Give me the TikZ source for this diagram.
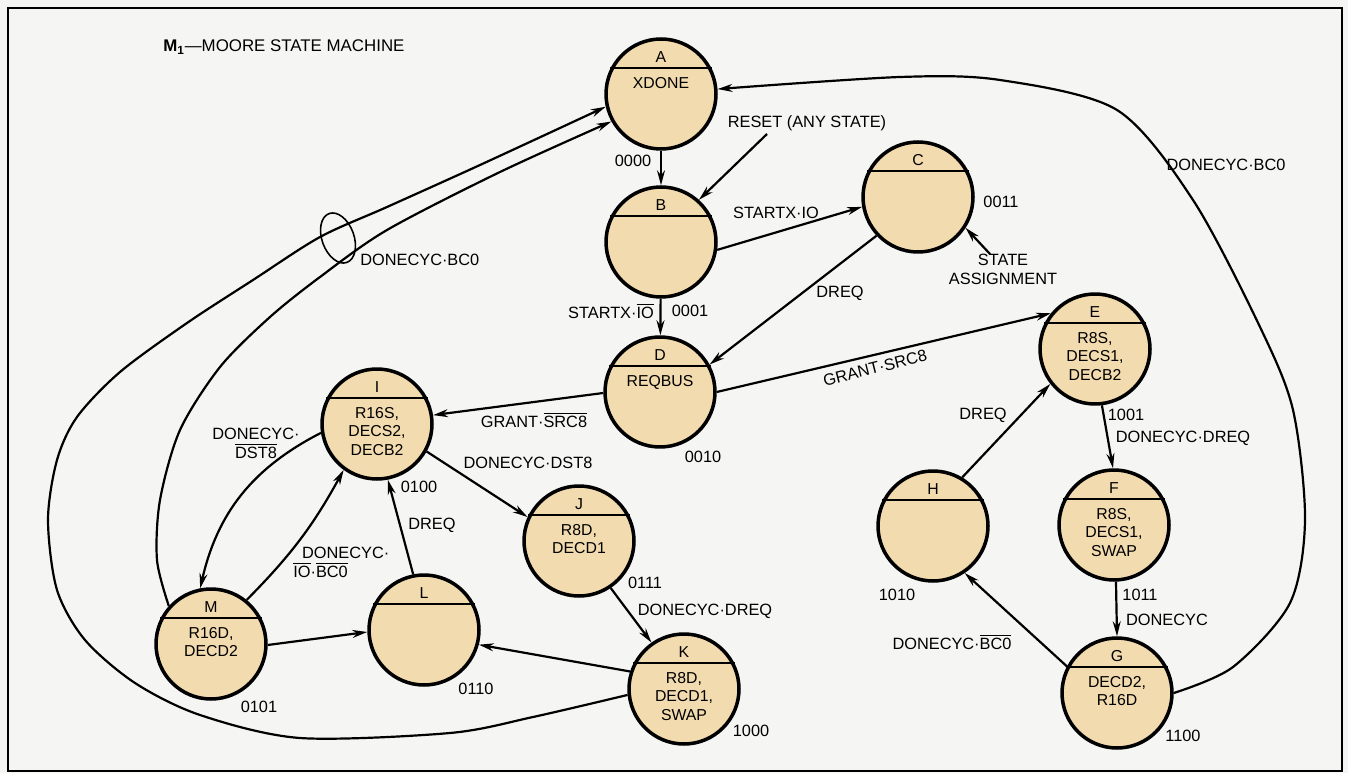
\documentclass[tikz,border=0pt]{standalone}
\usepackage{fontspec}
\setmainfont{Liberation Sans}
\usetikzlibrary{arrows.meta}
\definecolor{statefill}{RGB}{242,219,174}
\definecolor{paper}{RGB}{245,245,244}

\tikzset{
  statenode/.style={circle, draw, line width=2pt, fill=statefill, minimum size=2.2cm, inner sep=0},
  divider/.style={line width=1.3pt},
  letter/.style={font=\fontsize{9}{10.5}\selectfont, inner sep=0},
  actions/.style={font=\fontsize{9}{10.5}\selectfont, align=center, anchor=north, inner sep=0},
  lbl/.style={font=\fontsize{9.3}{10.8}\selectfont, inner sep=0},
  trans/.style={->, line width=1.25pt},
}
\newcommand{\ovl}[1]{$\overline{\mbox{#1}}$}
% state circle: name, x, y, actions
\newcommand{\mstate}[4]{%
  \node[statenode] (#1) at (#2,#3) {};
  \draw[divider] (#1.27) -- (#1.153);
  \node[letter] (#1n) at (#2,{#3+37}) {#1};
  \node[actions] (#1a) at (#2,{#3+17}) {#4};
}

\begin{document}
\begin{tikzpicture}[x=0.02cm, y=0.02cm, >={Stealth[length=8.5pt,width=4.5pt]}]
  % Paper and frame
  \fill[paper] (0,0) rectangle (1348,-773);
  \useasboundingbox (0,0) rectangle (1348,-773);
  \draw[line width=1pt] (8,-8) rectangle (1342,-771);
  \node[lbl, anchor=west, font=\fontsize{9.6}{11}\selectfont] (title) at (163,-47) {\textbf{M\textsubscript{1}}—MOORE STATE MACHINE};

  % States
  \mstate{A}{661}{-94}{XDONE}
  \mstate{B}{661}{-242}{}
  \mstate{C}{918}{-197}{}
  \mstate{D}{660}{-392}{REQBUS}
  \mstate{E}{1095}{-349}{R8S,\\DECS1,\\DECB2}
  \mstate{F}{1114}{-525}{R8S,\\DECS1,\\SWAP}
  \mstate{G}{1117}{-693}{DECD2,\\R16D}
  \mstate{H}{933}{-526}{}
  \mstate{I}{377}{-424}{R16S,\\DECS2,\\DECB2}
  \mstate{J}{579}{-541}{R8D,\\DECD1}
  \mstate{K}{684}{-689}{R8D,\\DECD1,\\SWAP}
  \mstate{L}{424}{-630}{}
  \mstate{M}{211}{-644}{R16D,\\DECD2}

  % State codes
  \node[lbl] (codeA) at (633,-161) {0000};
  \node[lbl] (codeB) at (690,-311) {0001};
  \node[lbl] (codeC) at (1001,-202) {0011};
  \node[lbl] (codeD) at (703,-457) {0010};
  \node[lbl] (codeE) at (1126,-415) {1001};
  \node[lbl] (codeF) at (1140,-595) {1011};
  \node[lbl] (codeG) at (1183,-736) {1100};
  \node[lbl] (codeH) at (897,-595) {1010};
  \node[lbl] (codeI) at (419,-487) {0100};
  \node[lbl] (codeJ) at (645,-583) {0111};
  \node[lbl] (codeK) at (751,-731) {1000};
  \node[lbl] (codeL) at (476,-689) {0110};
  \node[lbl] (codeM) at (259,-707) {0101};

  % Reset and state assignment notes
  \node[lbl] (reset) at (807,-123) {RESET (ANY STATE)};
  \coordinate (rst) at (767,-134);
  \draw[trans] (rst) -- (B.48);
  \node[lbl, align=center] (assign) at (1003,-269) {STATE\\ASSIGNMENT};
  \coordinate (asg) at (990,-254);
  \draw[trans] (asg) -- (C.-33);

  % Transitions
  \draw[trans] (A) -- (B);
  \draw[trans] (B.-8) -- (C.190);
  \node[lbl] (tBC) at (776,-213) {STARTX·IO};
  \draw[trans] (C.223) -- (D.29);
  \node[lbl] (tCD) at (840,-293) {DREQ};
  \draw[trans] (B) -- (D);
  \node[lbl] (tBD) at (611,-311) {STARTX·\ovl{IO}};
  \draw[trans] (D.0) -- (E.141);
  \node[lbl, rotate=14] (tDE) at (875,-368) {GRANT·SRC8};
  \draw[trans] (D.181) -- (I.9);
  \node[lbl] (tDI) at (534,-420) {GRANT·\ovl{SRC8}};
  \draw[trans] (I.-29) -- (J.155);
  \node[lbl] (tIJ) at (528,-463) {DONECYC·DST8};
  \draw[trans] (J.-56) -- (K.125);
  \node[lbl] (tJK) at (705,-611) {DONECYC·DREQ};
  \draw[trans] (K.162) -- (L.-15);
  \draw[trans] (L.101) -- (I.-79);
  \node[lbl] (tLI) at (432,-525) {DREQ};
  \draw[trans] (M.-1) -- (L.182);
  \draw[trans] (I.189) to[bend right=25] (M.101);
  \node[lbl, align=center] (tIM) at (256,-443) {DONECYC·\\\ovl{DST8}};
  \draw[trans] (M.51) to[bend right=8] (I.234);
  \node[lbl, align=left, anchor=west] (tMI) at (293,-562) {\hspace{5pt}DONECYC·\\\ovl{IO}·\ovl{BC0}};
  \draw[trans] (H.59) -- (E.218);
  \node[lbl] (tHE) at (983,-415) {DREQ};
  \draw[trans] (E.-83) -- (F.91);
  \node[lbl] (tEF) at (1183,-438) {DONECYC·DREQ};
  \draw[trans] (F.-88) -- (G.90);
  \node[lbl] (tFG) at (1167,-620) {DONECYC};
  \draw[trans] (G.152) -- (H.-56);
  \node[lbl] (tGH) at (952,-642) {DONECYC·\ovl{BC0}};

  % Long returns to A
  \draw[trans] plot[smooth] coordinates {(G.0) (1233,-667) (1290,-603) (1305,-520)
    (1293,-410) (1260,-327) (1193,-200) (1117,-110) (1000,-80) (900,-77) (A.5)};
  \node[lbl] (tGA) at (1226,-165) {DONECYC·BC0};
  \draw[trans] plot[smooth] coordinates {(K.186) (533,-717) (450,-733) (300,-738)
    (200,-715) (135,-683) (85,-640) (57,-590) (48,-520) (57,-460) (77,-417)
    (120,-372) (187,-323) (253,-280) (320,-237) (387,-207) (480,-165) (A.193)};
  \draw[trans] plot[smooth] coordinates {(M.138) (157,-560) (160,-500) (180,-430)
    (220,-367) (270,-317) (320,-277) (387,-230) (500,-172) (A.209)};
  \draw[line width=0.9pt, rotate around={20:(338,-238)}] (338,-238) ellipse [x radius=16, y radius=26];
  \node[lbl, anchor=west] (tKMA) at (360,-260) {DONECYC·BC0};
\end{tikzpicture}
\end{document}
